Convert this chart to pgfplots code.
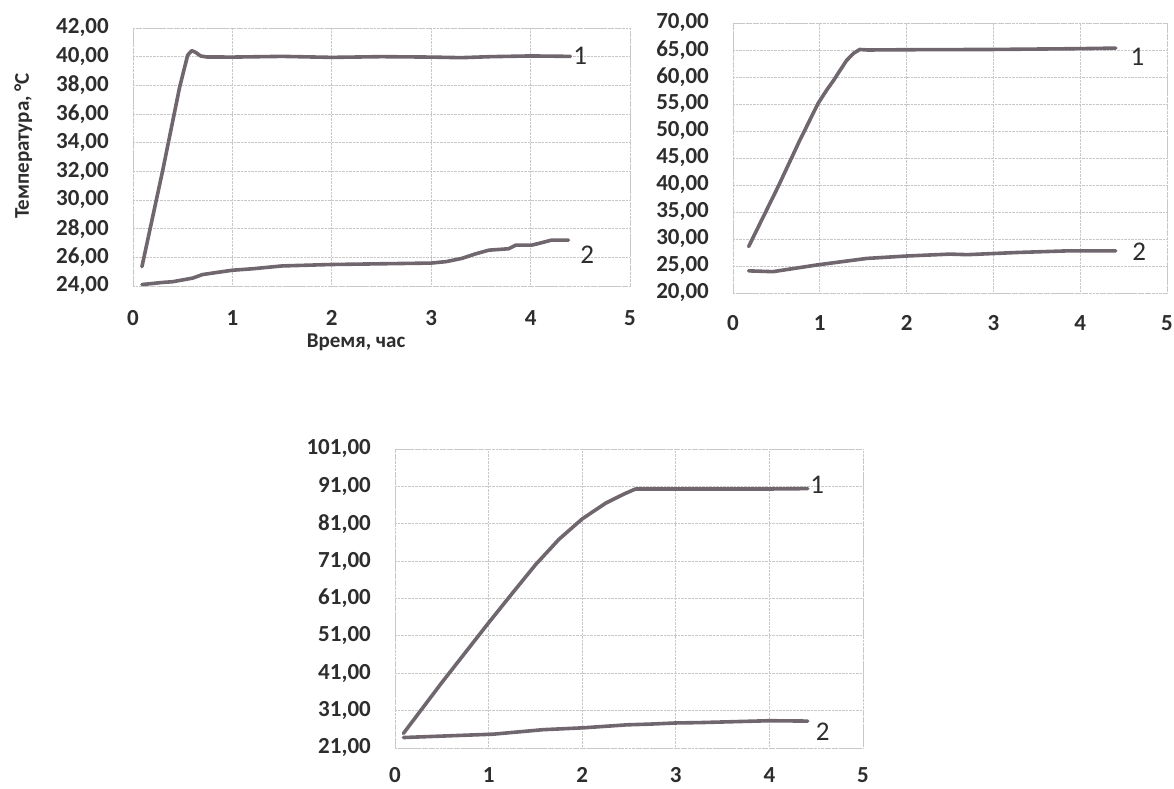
\documentclass[border=0pt]{standalone}
\usepackage{pgfplots}
\pgfplotsset{compat=1.18}
\usepackage{fontspec}
\setmainfont{Carlito}
\definecolor{curve}{RGB}{112,102,110}
\definecolor{txt}{RGB}{45,45,45}
\definecolor{gridc}{RGB}{200,200,200}
\tikzset{lab/.style={font=\fontsize{27}{27}\selectfont, text=txt, anchor=center}}
\pgfplotsset{
  common/.style={
    scale only axis,
    anchor=south west,
    xmin=0, xmax=5, xtick={0,1,2,3,4,5},
    major tick length=0pt,
    grid=major,
    major grid style={draw=gridc, densely dotted, line width=0.8pt},
    axis line style={draw=gridc, densely dotted, line width=0.8pt},
    /pgf/number format/assume math mode=true,
    tick label style={font=\bfseries\fontsize{23}{23}\selectfont, text=txt, inner sep=0pt},
    yticklabel style={anchor=east, xshift=-24pt,
      /pgf/number format/fixed, /pgf/number format/fixed zerofill,
      /pgf/number format/precision=2, /pgf/number format/use comma},
    xticklabel style={anchor=north, yshift=-22pt},
    no markers,
    every axis plot post/.append style={draw=curve, line width=3.6pt, line join=round, line cap=round, mark=none},
    clip=false,
  },
}
\begin{document}
\begin{tikzpicture}[x=1pt,y=1pt]
\path (0,0) rectangle (1174,788);

% Plot 1
\begin{axis}[common, at={(133pt,502pt)}, width=497pt, height=258pt,
  ymin=24, ymax=42, ytick={24,26,...,42},
  xticklabel style={yshift=-2pt},
  ylabel={Температура, °C}, xlabel={Время, час},
  label style={font=\bfseries\fontsize{21}{21}\selectfont, text=txt},
  ylabel style={at={(axis description cs:-0.221,0.543)}, anchor=center},
  xlabel style={at={(axis description cs:0.449,-0.217)}, anchor=center},
]
\addplot coordinates {(0.09,25.35) (0.30,32.1) (0.47,37.9) (0.55,40.1) (0.59,40.42) (0.63,40.3) (0.68,40.05) (0.74,39.98) (1.0,39.97) (1.3,40.0) (1.5,40.02) (2.0,39.95) (2.5,40.0) (3.0,39.97) (3.3,39.93) (3.6,40.0) (4.0,40.05) (4.4,40.02)};
\addplot coordinates {(0.09,24.1) (0.3,24.25) (0.4,24.3) (0.6,24.55) (0.7,24.8) (0.85,24.95) (1.0,25.1) (1.2,25.2) (1.5,25.4) (2.0,25.5) (2.5,25.55) (3.0,25.6) (3.15,25.7) (3.31,25.93) (3.45,26.25) (3.58,26.5) (3.78,26.6) (3.85,26.85) (4.01,26.85) (4.1,27.0) (4.21,27.2) (4.38,27.2)};
\node[lab] at (axis cs:4.50,40.07) {1};
\node[lab] at (axis cs:4.57,26.2) {2};
\end{axis}

% Plot 2
\begin{axis}[common, at={(733pt,495pt)}, width=434pt, height=270pt,
  ymin=20, ymax=70, ytick={20,25,...,70},
]
\addplot coordinates {(0.18,28.6) (0.52,39.7) (0.77,48.3) (0.98,55.1) (1.08,57.6) (1.16,59.4) (1.24,61.4) (1.31,63.1) (1.39,64.4) (1.46,65.1) (1.55,65.0) (2.0,65.05) (3.0,65.1) (4.0,65.25) (4.41,65.35)};
\addplot coordinates {(0.18,24.1) (0.46,23.95) (0.97,25.2) (1.54,26.4) (2.0,26.85) (2.5,27.2) (2.7,27.1) (3.27,27.5) (3.85,27.8) (4.41,27.8)};
\node[lab] at (axis cs:4.66,63.7) {1};
\node[lab] at (axis cs:4.68,27.6) {2};
\end{axis}

% Plot 3
\begin{axis}[common, at={(395pt,40pt)}, width=468pt, height=299pt,
  ymin=21, ymax=101, ytick={21,31,...,101},
  xticklabel style={yshift=3pt},
]
\addplot coordinates {(0.09,24.9) (0.5,38.5) (1.0,54.5) (1.25,62.3) (1.5,70.0) (1.75,76.8) (2.0,82.3) (2.25,86.5) (2.45,89.0) (2.57,90.3) (3.0,90.3) (4.0,90.3) (4.41,90.4)};
\addplot coordinates {(0.09,23.8) (0.62,24.3) (1.05,24.7) (1.58,25.9) (2.01,26.4) (2.48,27.2) (2.73,27.4) (3.0,27.7) (3.26,27.8) (4.0,28.3) (4.41,28.2)};
\node[lab] at (axis cs:4.51,91.4) {1};
\node[lab] at (axis cs:4.57,25.3) {2};
\end{axis}
\end{tikzpicture}
\end{document}
